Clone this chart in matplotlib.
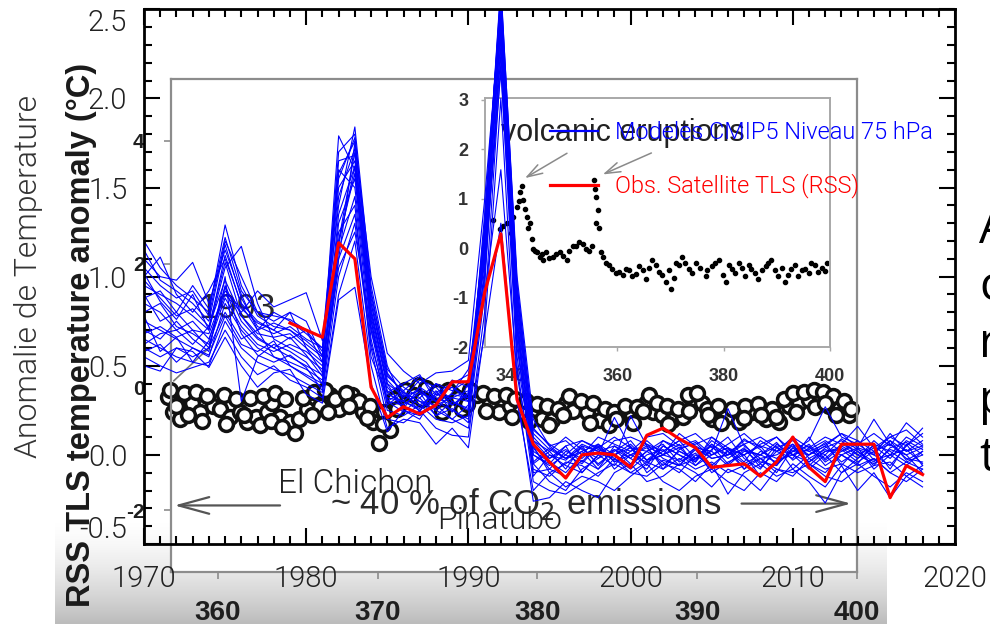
import numpy as np
import matplotlib
matplotlib.use('Agg')
import matplotlib.pyplot as plt
from matplotlib import font_manager as fm
from matplotlib.colors import LinearSegmentedColormap
from matplotlib.lines import Line2D
from matplotlib.ticker import FixedLocator, MultipleLocator, FormatStrFormatter

plt.rcParams['axes.unicode_minus'] = False

# ---- data ----
years = list(range(1970, 2019))
obs_years = list(range(1979, 2019))
obs_rss = [0.74, 0.70, 0.66, 1.19, 1.10, 0.38, 0.21, 0.27, 0.23, 0.28,
           0.41, 0.41, 0.91, 1.24, 0.31, 0.06, -0.04, -0.13, 0.00, 0.01,
           0.00, -0.07, 0.11, 0.15, 0.09, 0.04, -0.07, -0.06, -0.05, -0.12,
           -0.04, 0.10, -0.07, -0.15, 0.06, 0.06, 0.06, -0.24, -0.06, -0.11]

model_runs = [
    [1.20, 1.05, 0.95, 0.88, 0.80, 1.29, 0.95, 0.78, 0.72, 0.70, 0.62, 0.55, 1.79, 1.60,
     0.85, 0.45, 0.35, 0.30, 0.28, 0.32, 0.30, 1.20, 2.60, 0.95,
     0.15, 0.05, -0.02, 0.04, -0.05, 0.02, 0.08, -0.03, 0.05, 0.00, -0.06, 0.03, 0.10,
     -0.02, -0.08, 0.04, 0.00, 0.06, -0.04, 0.02, 0.08, -0.03, 0.00, 0.10, 0.05],
    [1.10, 1.00, 0.98, 1.08, 0.85, 1.15, 0.90, 0.70, 0.80, 0.75, 0.68, 0.60, 1.40, 1.84,
     0.95, 0.50, 0.30, 0.38, 0.25, 0.20, 0.28, 1.35, 2.55, 0.80,
     0.05, -0.10, -0.05, 0.02, 0.06, -0.04, 0.00, 0.05, -0.08, 0.03, 0.07, -0.02, 0.00,
     0.09, 0.03, -0.05, 0.02, 0.00, 0.07, -0.06, 0.04, 0.01, 0.08, -0.03, 0.02],
    [0.95, 0.90, 0.85, 0.78, 0.70, 1.05, 1.17, 0.85, 0.65, 0.60, 0.55, 0.48, 1.20, 1.70,
     0.80, 0.40, 0.25, 0.20, 0.35, 0.40, 0.45, 1.10, 2.45, 0.70,
     -0.05, -0.15, -0.20, -0.08, -0.02, 0.03, -0.05, 0.02, 0.06, -0.04, 0.01, -0.08, 0.03,
     0.00, 0.05, -0.06, 0.10, -0.02, 0.03, 0.00, -0.05, 0.06, 0.02, -0.04, 0.00],
    [0.85, 0.80, 0.70, 0.75, 0.65, 0.90, 0.80, 0.92, 0.83, 0.87, 0.91, 0.64, 1.60, 1.50,
     0.70, 0.35, 0.40, 0.45, 0.30, 0.25, 0.20, 1.00, 2.30, 0.60,
     0.00, -0.05, 0.05, -0.10, 0.00, 0.21, 0.04, -0.03, 0.02, 0.08, -0.02, 0.05, -0.05,
     0.03, 0.00, 0.07, -0.03, 0.04, 0.00, 0.09, 0.03, 0.00, -0.06, 0.05, 0.12],
    [0.75, 0.70, 0.65, 0.60, 0.55, 0.85, 0.70, 0.60, 0.55, 0.50, 0.45, 0.40, 1.10, 1.75,
     1.00, 0.57, 0.47, 0.40, 0.46, 0.47, 0.53, 1.43, 2.50, 0.90,
     0.10, 0.00, -0.03, 0.05, 0.02, -0.03, 0.22, 0.05, 0.00, -0.03, 0.04, 0.02, 0.26,
     0.05, -0.02, 0.00, 0.05, -0.04, 0.02, 0.04, -0.02, 0.08, 0.00, 0.03, -0.05],
    [0.65, 0.60, 0.55, 0.52, 0.50, 0.75, 0.60, 0.52, 0.48, 0.45, 0.40, 0.35, 1.00, 1.30,
     0.60, 0.20, 0.18, 0.25, 0.15, 0.11, 0.10, 0.80, 2.20, 0.50,
     -0.15, -0.20, -0.22, -0.16, -0.10, -0.05, -0.10, -0.12, -0.05, -0.08, -0.15, -0.05, -0.22,
     -0.10, -0.05, -0.12, -0.08, -0.15, -0.27, -0.10, -0.05, -0.12, -0.18, -0.10, -0.15],
    [0.55, 0.50, 0.46, 0.49, 0.52, 0.70, 0.55, 0.45, 0.50, 0.42, 0.38, 0.32, 0.90, 1.20,
     0.50, 0.15, 0.20, 0.18, 0.06, 0.15, 0.04, 0.70, 2.00, 0.35,
     -0.26, -0.24, -0.15, -0.20, -0.24, -0.10, -0.05, -0.15, -0.12, -0.05, -0.10, -0.18, -0.08,
     -0.12, -0.20, -0.08, -0.10, -0.05, -0.12, -0.15, -0.08, -0.02, -0.10, -0.15, -0.08],
    [1.00, 1.11, 0.90, 0.80, 0.92, 1.10, 0.85, 0.75, 0.70, 0.65, 0.70, 0.58, 1.50, 1.65,
     0.90, 0.48, 0.38, 0.32, 0.40, 0.36, 0.42, 1.25, 2.62, 1.00,
     0.20, 0.05, 0.08, 0.00, 0.10, 0.06, 0.02, 0.10, 0.12, 0.05, 0.08, 0.00, 0.06,
     0.12, 0.04, 0.10, 0.02, 0.08, 0.27, 0.10, 0.06, 0.12, 0.05, 0.18, 0.10],
    [0.90, 0.75, 0.80, 0.70, 0.60, 0.95, 0.75, 0.65, 0.60, 0.55, 0.50, 0.45, 1.30, 1.55,
     0.75, 0.30, 0.28, 0.35, 0.22, 0.30, 0.25, 1.05, 2.40, 0.65,
     -0.10, -0.08, -0.12, -0.03, -0.08, 0.00, -0.06, 0.02, -0.04, -0.10, 0.00, -0.06, 0.02,
     -0.08, -0.02, -0.10, 0.04, -0.05, -0.10, 0.00, -0.06, -0.02, -0.10, -0.04, -0.08],
    [0.70, 0.65, 0.75, 0.65, 0.58, 1.00, 0.30, 0.55, 0.62, 0.58, 0.52, 0.40, 1.15, 1.45,
     0.65, 0.25, 0.22, 0.28, 0.20, 0.18, 0.22, 0.95, 2.35, 0.55,
     -0.05, 0.02, -0.08, 0.05, -0.06, 0.03, -0.02, -0.08, 0.05, 0.00, -0.04, 0.06, -0.02,
     0.04, -0.07, 0.02, -0.02, 0.10, -0.03, 0.05, 0.00, -0.05, 0.03, 0.00, -0.10],
    [0.60, 0.55, 0.60, 0.58, 0.49, 0.66, 0.50, 0.38, 0.46, 0.48, 0.34, 0.29, 0.87, 0.94,
     0.40, 0.13, 0.25, 0.22, 0.28, 0.20, 0.15, 0.68, 1.30, 0.30,
     -0.20, -0.10, -0.18, -0.12, -0.15, -0.20, -0.12, -0.05, -0.15, -0.20, -0.12, -0.08, -0.15,
     -0.20, -0.10, -0.15, -0.05, -0.12, -0.18, -0.06, -0.20, -0.10, -0.24, -0.12, -0.18],
    [1.05, 0.95, 0.88, 0.92, 0.78, 1.20, 1.00, 0.80, 0.75, 0.80, 0.75, 0.55, 1.70, 1.80,
     0.85, 0.42, 0.32, 0.42, 0.38, 0.28, 0.35, 1.30, 2.58, 0.85,
     0.05, -0.02, 0.05, 0.08, 0.03, 0.00, 0.06, -0.03, 0.00, 0.12, 0.05, 0.00, 0.04,
     -0.04, 0.08, 0.02, 0.06, 0.00, 0.05, 0.12, 0.04, 0.20, 0.06, 0.00, 0.04],
    [0.80, 0.85, 0.72, 0.68, 0.62, 0.88, 0.72, 0.62, 0.58, 0.62, 0.58, 0.50, 1.25, 1.40,
     0.55, 0.32, 0.30, 0.25, 0.33, 0.38, 0.30, 1.15, 2.45, 0.75,
     0.00, -0.06, 0.00, -0.05, 0.05, -0.08, 0.00, 0.04, -0.06, 0.02, -0.03, 0.08, 0.02,
     -0.05, 0.00, 0.05, -0.08, 0.00, 0.05, -0.04, 0.02, -0.06, 0.04, 0.07, 0.00],
    [0.50, 0.47, 0.60, 0.55, 0.60, 0.80, 0.65, 0.70, 0.55, 0.52, 0.48, 0.42, 1.05, 1.25,
     0.70, 0.28, 0.35, 0.30, 0.25, 0.35, 0.48, 1.00, 2.25, 0.65,
     -0.12, 0.00, -0.06, -0.10, 0.00, -0.06, 0.05, -0.10, -0.03, -0.06, 0.03, -0.10, -0.04,
     0.00, -0.12, -0.03, 0.00, -0.08, 0.00, -0.10, -0.02, 0.04, -0.08, 0.06, -0.06],
    [0.98, 0.88, 0.78, 0.82, 0.72, 1.08, 0.78, 0.68, 0.66, 0.68, 0.60, 0.52, 1.45, 1.72,
     0.80, 0.38, 0.28, 0.35, 0.30, 0.42, 0.38, 1.18, 2.52, 0.88,
     0.08, 0.02, 0.10, 0.03, -0.02, 0.08, 0.10, 0.06, 0.02, 0.08, 0.12, 0.04, 0.00,
     0.08, 0.05, 0.02, 0.10, 0.04, 0.10, 0.06, 0.16, 0.04, 0.10, 0.05, 0.15],
    [0.68, 0.72, 0.66, 0.70, 0.68, 0.92, 0.82, 0.74, 0.70, 0.80, 0.60, 0.46, 1.35, 1.62,
     0.78, 0.34, 0.30, 0.26, 0.36, 0.24, 0.40, 1.08, 2.15, 0.70,
     0.02, -0.04, -0.10, 0.00, 0.04, -0.02, -0.08, 0.00, 0.03, -0.06, -0.02, 0.02, -0.06,
     0.02, 0.00, -0.04, 0.02, 0.05, -0.06, 0.00, 0.04, -0.08, 0.00, -0.06, 0.02],
    [0.58, 0.62, 0.52, 0.60, 0.56, 0.78, 0.62, 0.58, 0.64, 0.50, 0.44, 0.38, 1.10, 1.35,
     0.62, 0.30, 0.24, 0.32, 0.22, 0.26, 0.18, 0.90, 1.60, 0.45,
     -0.08, -0.12, -0.04, -0.06, -0.12, -0.02, -0.10, -0.04, -0.08, -0.02, -0.08, -0.04, -0.10,
     -0.06, -0.02, -0.08, -0.12, -0.02, -0.08, -0.05, -0.10, -0.06, -0.04, -0.12, -0.06],
    [1.15, 0.98, 0.92, 0.85, 0.75, 1.18, 0.88, 0.72, 0.68, 0.72, 0.65, 0.60, 1.55, 1.78,
     0.88, 0.44, 0.36, 0.44, 0.34, 0.32, 0.36, 1.22, 2.48, 0.82,
     0.12, 0.03, -0.02, 0.06, 0.02, 0.05, -0.02, 0.08, 0.00, 0.04, -0.04, 0.10, 0.04,
     0.00, 0.06, 0.10, 0.00, 0.03, 0.08, 0.02, 0.06, 0.00, 0.12, 0.02, 0.08],
    [0.88, 0.92, 0.80, 0.95, 0.82, 1.22, 0.92, 0.80, 0.78, 0.76, 0.70, 0.52, 1.65, 1.68,
     0.82, 0.40, 0.33, 0.36, 0.30, 0.34, 0.32, 1.28, 2.56, 0.92,
     0.08, -0.02, 0.03, -0.04, 0.06, 0.00, 0.04, -0.06, 0.08, 0.02, -0.02, 0.06, 0.00,
     0.03, -0.05, 0.06, 0.00, -0.04, 0.04, 0.08, 0.00, 0.05, -0.02, 0.08, 0.03],
    [0.62, 0.68, 0.70, 0.62, 0.72, 0.98, 0.78, 0.66, 0.60, 0.66, 0.56, 0.44, 1.20, 1.58,
     0.72, 0.36, 0.26, 0.38, 0.32, 0.28, 0.34, 1.12, 2.42, 0.78,
     -0.04, 0.04, -0.02, 0.02, -0.08, 0.05, 0.00, -0.04, 0.00, 0.06, -0.06, 0.00, 0.04,
     -0.08, 0.02, -0.02, 0.06, -0.06, 0.02, 0.03, -0.04, 0.02, 0.06, -0.02, -0.04],
    [0.78, 0.58, 0.66, 0.52, 0.64, 0.94, 0.68, 0.56, 0.52, 0.56, 0.49, 0.36, 1.18, 1.62,
     0.76, 0.30, 0.36, 0.24, 0.40, 0.30, 0.26, 1.14, 2.50, 0.72,
     0.04, -0.08, 0.02, -0.02, 0.06, -0.04, 0.02, 0.06, -0.02, -0.06, 0.04, -0.02, 0.00,
     0.06, -0.04, -0.06, 0.04, 0.02, -0.02, 0.06, 0.02, -0.04, 0.08, 0.02, 0.05],
    [1.02, 0.86, 0.76, 0.90, 0.70, 1.12, 0.84, 0.70, 0.74, 0.70, 0.64, 0.56, 1.58, 1.76,
     0.92, 0.46, 0.34, 0.28, 0.34, 0.38, 0.32, 1.26, 2.64, 0.96,
     0.14, 0.06, 0.00, 0.08, 0.04, 0.10, 0.04, 0.02, 0.08, 0.04, 0.06, 0.10, 0.02,
     0.06, 0.10, 0.04, 0.08, 0.02, 0.06, 0.12, 0.08, 0.02, 0.10, 0.14, 0.06],
]

# background picture: TLS anomaly vs CO2 (open circles)
circle_ppm = [356.9, 357.2, 357.6, 358.4, 358.9, 359.7, 360.1, 360.75, 361.4, 361.8,
              362.4, 363.1, 363.4, 363.9, 364.5, 364.8, 365.1, 365.6, 366.4, 367.0,
              367.6, 368.4, 369.1, 369.7, 370.1, 370.75, 371.4, 372.0, 372.6, 373.25,
              374.1, 374.7, 375.3, 376.2, 377.0, 377.6, 378.25, 378.9, 379.7, 380.3,
              380.9, 381.8, 382.2, 383.1, 383.9, 384.5, 385.1, 385.9, 386.8, 387.2,
              387.8, 388.4, 389.1, 389.7, 390.3, 390.9, 391.8, 392.6, 393.4, 394.3,
              395.1, 395.75, 396.4, 397.0, 397.6, 398.25, 398.9, 399.5,
              357.0, 357.9, 358.6, 359.3, 360.4, 361.1, 362.0, 362.8, 363.6, 364.2,
              365.3, 366.0, 366.7, 367.3, 368.0, 368.8, 369.5, 370.4, 371.0, 371.7,
              372.3, 373.0, 373.7, 374.4, 375.0, 375.8, 376.6, 377.3, 378.0, 378.6,
              379.3, 380.0, 380.6, 381.3, 382.0, 382.7, 383.5, 384.2, 384.8, 385.5,
              386.2, 387.0, 387.5, 388.1, 388.8, 389.4, 390.0, 390.6, 391.3, 392.2,
              393.0, 393.8, 394.7, 395.4, 396.0, 396.7, 397.3, 397.9, 398.5, 399.2,
              357.4, 358.1, 359.0, 360.5, 361.6, 362.6, 363.3, 364.0, 365.9, 366.9,
              368.2, 369.3, 370.3, 371.2, 372.8, 374.0, 375.6, 376.8, 378.4, 379.5,
              380.7, 381.6, 383.3, 384.9, 386.0, 386.6, 388.2, 389.5, 390.7, 391.5,
              392.9, 394.0, 394.9, 396.2, 397.4, 398.0, 398.7, 399.6]
circle_anom = [-0.16, -0.41, -0.52, -0.25, -0.41, -0.30, -0.36, -0.49, -0.41, -0.57,
               -0.49, -0.41, -0.25, -0.49, -0.57, -0.74, -0.52, -0.36, -0.30, -0.13,
               -0.36, -0.13, -0.41, -0.57, -0.90, -0.69, -0.13, -0.08, 0.03, -0.13,
               -0.25, -0.13, -0.36, -0.13, -0.25, -0.41, -0.30, -0.41, -0.41, -0.52,
               -0.54, -0.25, -0.38, -0.41, -0.54, -0.61, -0.46, -0.46, -0.25, -0.41,
               -0.46, -0.54, -0.49, -0.20, -0.25, -0.52, -0.49, -0.57, -0.41, -0.52,
               -0.57, -0.30, -0.25, -0.21, -0.13, -0.30, -0.36, -0.46,
               -0.05, -0.10, -0.08, -0.15, -0.12, -0.20, -0.18, -0.15, -0.10, -0.20,
               -0.18, -0.08, -0.05, -0.20, -0.10, -0.22, -0.30, -0.40, -0.20, -0.05,
               -0.12, -0.02, -0.08, -0.05, -0.18, -0.05, -0.10, -0.15, -0.12, -0.20,
               -0.22, -0.28, -0.30, -0.35, -0.15, -0.22, -0.25, -0.35, -0.40, -0.30,
               -0.32, -0.12, -0.25, -0.30, -0.35, -0.12, -0.10, -0.35, -0.30, -0.35,
               -0.30, -0.28, -0.35, -0.20, -0.10, -0.08, -0.05, -0.08, -0.15, -0.22,
               -0.30, -0.45, -0.55, -0.60, -0.45, -0.62, -0.55, -0.65, -0.45, -0.40,
               -0.30, -0.50, -0.60, -0.35, -0.20, -0.40, -0.28, -0.38, -0.48, -0.55,
               -0.62, -0.45, -0.58, -0.52, -0.58, -0.38, -0.60, -0.38, -0.45, -0.58,
               -0.50, -0.45, -0.48, -0.40, -0.32, -0.25, -0.45, -0.35]

# inset: small black dots
inset_ppm = [336.6, 337.9, 339.3, 340.4, 341.1, 341.7, 342.1, 342.2, 343.0, 343.6,
             343.9, 344.1, 344.9, 345.4, 346.0, 346.7, 347.9, 349.2, 350.5, 351.6,
             352.9, 354.2, 355.3, 355.7, 356.1, 356.3, 356.1, 357.0, 357.9, 359.1,
             360.4, 361.7, 362.8, 364.1, 365.4, 366.5, 367.9, 369.2, 370.1, 371.0,
             372.1, 373.5, 374.8, 376.6, 377.8, 379.1, 380.4, 381.5, 382.8, 384.1,
             385.2, 386.5, 387.9, 389.0, 390.3, 391.6, 392.7, 394.0, 395.3, 396.4,
             397.8, 399.1,
             338.5, 340.0, 341.5, 342.6, 343.3, 344.5, 345.8, 347.2, 348.5, 349.8,
             351.0, 352.3, 353.5, 354.7, 355.9, 356.5, 357.4, 358.5, 359.8, 361.0,
             362.2, 363.5, 364.8, 365.9, 367.2, 368.5, 369.7, 370.6, 371.6, 372.8,
             374.1, 375.5, 376.9, 378.4, 379.8, 381.0, 382.2, 383.5, 384.7, 385.9,
             387.2, 388.4, 389.7, 391.0, 392.1, 393.4, 394.7, 396.0, 397.1, 398.5, 399.4]
inset_anom = [0.58, 0.38, 0.52, 0.64, 0.84, 1.13, 1.25, 0.98, 0.64, 0.52,
              0.18, -0.02, -0.08, -0.17, -0.23, -0.08, -0.17, -0.08, -0.23, 0.04,
              0.12, -0.02, 0.04, 1.39, 1.04, 0.78, 0.52, -0.08, -0.29, -0.43,
              -0.49, -0.43, -0.57, -0.37, -0.63, -0.23, -0.49, -0.69, -0.83, -0.29,
              -0.17, -0.43, -0.29, -0.57, -0.37, -0.23, -0.69, -0.43, -0.29, -0.57,
              -0.43, -0.63, -0.37, -0.23, -0.57, -0.69, -0.43, -0.57, -0.43, -0.29,
              -0.49, -0.47,
              0.45, 0.30, 0.95, 0.80, 0.40, -0.05, -0.12, -0.20, -0.12, -0.15,
              -0.05, 0.05, 0.08, -0.05, 1.20, 0.40, -0.18, -0.35, -0.50, -0.55,
              -0.45, -0.52, -0.45, -0.40, -0.35, -0.55, -0.45, -0.60, -0.35, -0.30,
              -0.50, -0.40, -0.45, -0.30, -0.55, -0.35, -0.50, -0.40, -0.35, -0.50,
              -0.45, -0.30, -0.45, -0.40, -0.55, -0.35, -0.45, -0.50, -0.35, -0.40, -0.30]

xticks = [1970, 1980, 1990, 2000, 2010, 2020]
yticks = [-0.5, 0.0, 0.5, 1.0, 1.5, 2.0, 2.5]
bg_xticks = [360, 370, 380, 390, 400]
bg_yticks = [-2, 0, 2, 4]
inset_xticks = [340, 360, 380, 400]
inset_yticks = [-2, -1, 0, 1, 2, 3]
right_letters = ['A', 'c', 'r', 'p', 't']


def light_font_path():
    # a thin sans for the vector-font look of the original
    for fam in ('Roboto', 'Open Sans', 'Lato', 'DejaVu Sans'):
        for lo, hi in ((250, 350), (200, 250)):
            for f in fm.fontManager.ttflist:
                w = f.weight if isinstance(f.weight, int) else fm.weight_dict.get(f.weight, 400)
                if f.name == fam and f.style == 'normal' and lo <= w <= hi:
                    return f.fname
    return None


LIGHT = light_font_path()


def thin(size):
    if LIGHT:
        return fm.FontProperties(fname=LIGHT, size=size)
    return fm.FontProperties(family='DejaVu Sans', size=size)


W, H = 990.0, 624.0
fig = plt.figure(figsize=(W / 100, H / 100), dpi=100)

# grey gradient band at the bottom of the pasted picture
gax = fig.add_axes([55 / W, 0, 832 / W, 104 / H], zorder=-5)
band = LinearSegmentedColormap.from_list('band', ['white', '#bcbcbc'])
gax.imshow(np.linspace(0, 1, 100)[:, None] ** 1.5, cmap=band, aspect='auto', vmin=0, vmax=1)
gax.axis('off')

# ---- pasted background chart ----
bg = fig.add_axes([171 / W, 1 - 572 / H, 686 / W, 493 / H], zorder=0)
bg.set_xlim(357.06, 399.94)
bg.set_ylim(-3.0, 5.0)
for s in bg.spines.values():
    s.set_color('#8c8c8c')
    s.set_linewidth(1.6)
bg.plot(circle_ppm, circle_anom, 'o', ms=10, mfc='white', mec='#111111', mew=2.5,
        clip_on=False)
bg.set_xticks(bg_xticks)
bg.set_yticks(bg_yticks)
bg.tick_params(direction='out', length=5, width=1.2, color='#8c8c8c')
bg.tick_params(axis='x', pad=15.5)
bg.tick_params(axis='y', pad=14)
for t in bg.get_xticklabels():
    t.set_fontproperties(fm.FontProperties(family='Liberation Sans', weight='bold', size=20))
    t.set_color('#1e1e1e')
for t in bg.get_yticklabels():
    t.set_fontproperties(fm.FontProperties(family='Liberation Sans', weight='bold', size=15))
    t.set_color('#1e1e1e')
bg.text(-0.13, 0.48, 'RSS TLS temperature anomaly (°C)', transform=bg.transAxes,
        rotation=90, ha='center', va='center', fontsize=23.5, fontweight='bold',
        family='Liberation Sans', color='#1a1a1a')
bg.text(361.2, 1.27, '1993', ha='center', va='center', fontsize=25,
        family='Liberation Sans', color='#2a2a2a')
bg.annotate('', xy=(357.1, 0.07), xytext=(359.7, 0.70),
            arrowprops=dict(arrowstyle='-', color='#777777', lw=1.2))
bg.text(379.25, -1.89, '~ 40 % of CO$_2$ emissions', ha='center', va='center',
        fontsize=25, family='Liberation Sans', color='#2a2a2a')
bg.annotate('', xy=(357.1, -1.92), xytext=(364.06, -1.92), annotation_clip=False,
            arrowprops=dict(arrowstyle='->,head_length=2.2,head_width=0.6',
                            color='#555555', lw=1.6))
bg.annotate('', xy=(399.8, -1.89), xytext=(392.6, -1.89), annotation_clip=False,
            arrowprops=dict(arrowstyle='->,head_length=2.2,head_width=0.6',
                            color='#555555', lw=1.6))

# inset of the background chart
ins = fig.add_axes([485 / W, 1 - 347 / H, 345 / W, 249 / H], zorder=0.5)
ins.set_xlim(335.14, 399.6)
ins.set_ylim(-1.98, 3.04)
for s in ins.spines.values():
    s.set_color('#a8a8a8')
    s.set_linewidth(1.4)
ins.plot(inset_ppm, inset_anom, '.', color='black', ms=6)
ins.set_xticks(inset_xticks)
ins.set_yticks(inset_yticks)
ins.tick_params(direction='out', length=3, width=1, color='#a8a8a8')
ins.tick_params(axis='x', pad=12)
ins.tick_params(axis='y', pad=9)
for t in ins.get_xticklabels() + ins.get_yticklabels():
    t.set_fontproperties(fm.FontProperties(family='Liberation Sans', weight='bold', size=13))
    t.set_color('#333333')
ins.text(361.0, 2.33, 'volcanic eruptions', ha='center', va='center', fontsize=22,
         family='Liberation Sans', color='#222222')
for tip, tail in (((342.2, 1.39), (351.0, 1.95)), ((356.8, 1.47), (366.9, 1.95))):
    ins.annotate('', xy=tip, xytext=tail,
                 arrowprops=dict(arrowstyle='->,head_length=1.1,head_width=0.35',
                                 color='#8a8a8a', lw=1.1))

# ---- main chart ----
ax = fig.add_axes([144 / W, 1 - 544 / H, 811 / W, 534.7 / H], zorder=2)
ax.patch.set_visible(False)
for run in model_runs:
    ax.plot(years, run, color='blue', lw=0.8)
ax.plot(obs_years, obs_rss, color='red', lw=2.3)

ax.set_xlim(1970, 2020)
ax.set_ylim(-0.5, 2.5)
ax.xaxis.set_major_locator(FixedLocator(xticks))
ax.xaxis.set_minor_locator(MultipleLocator(1))
ax.yaxis.set_major_locator(FixedLocator(yticks))
ax.yaxis.set_minor_locator(MultipleLocator(0.1))
ax.yaxis.set_major_formatter(FormatStrFormatter('%.1f'))
ax.tick_params(which='both', direction='in', top=True, right=True, width=1.5, color='black')
ax.tick_params(which='major', length=11.5)
ax.tick_params(which='minor', length=5.5)
ax.tick_params(axis='x', which='major', pad=15)
ax.tick_params(axis='y', which='major', pad=12)
for s in ax.spines.values():
    s.set_linewidth(2)
for t in ax.get_xticklabels() + ax.get_yticklabels():
    t.set_fontproperties(thin(21))
    t.set_color('#222222')
ylabs = ax.get_yticklabels()
ylabs[0].set_va('bottom')
ylabs[-1].set_va('top')

ax.set_ylabel('Anomalie de Temperature', fontproperties=thin(23), color='#333333')
ax.yaxis.set_label_coords(-0.1245, 0.5)

ax.text(1983.0, -0.163, 'El Chichon', ha='center', va='center', fontproperties=thin(24),
        color='#222222')
ax.text(1991.9, -0.37, 'Pinatubo', ha='center', va='center', fontproperties=thin(23),
        color='#222222')

handles = [Line2D([], [], color='blue', lw=1.6), Line2D([], [], color='red', lw=2.3)]
ax.legend(handles, ['Modeles CMIP5 Niveau 75 hPa', 'Obs. Satellite TLS (RSS)'],
          loc='upper left', bbox_to_anchor=(550 / W, 1 - 121 / H),
          bbox_transform=fig.transFigure, frameon=False, prop=thin(17),
          handlelength=2.05, handletextpad=0.72, labelspacing=1.25,
          borderpad=0, borderaxespad=0, labelcolor='linecolor')

# cut-off text at the right edge of the slide
for i, letter in enumerate(right_letters):
    fig.text(979 / W, 1 - (243 + 57 * i) / H, letter, ha='left', va='baseline',
             fontsize=34, family='Open Sans', color='black')

fig.savefig('out.png', dpi=100)
